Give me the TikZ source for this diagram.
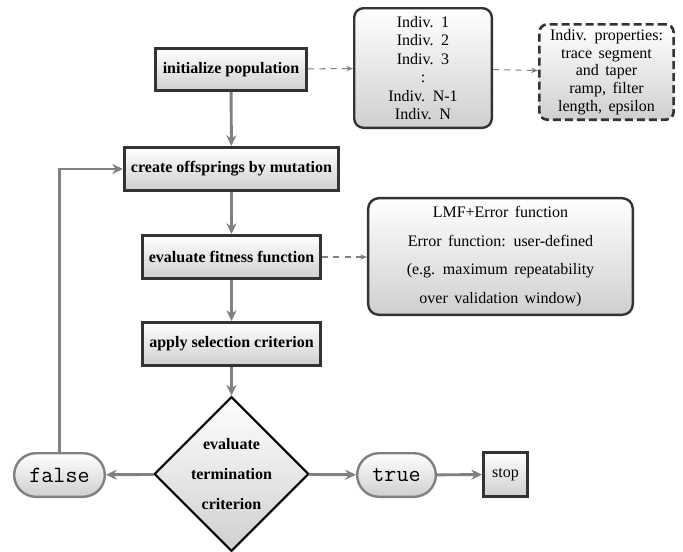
\documentclass[tikz,border=0pt]{standalone}
\usepackage{fontspec}
\setmainfont{Liberation Serif}
\newfontfamily\widefont{Liberation Serif}[WordSpace=1.6]
\usetikzlibrary{shapes.geometric,shapes.misc,arrows.meta}
\definecolor{boxdark}{HTML}{333333}
\definecolor{shadegray}{HTML}{CFCFCF}
\definecolor{arrowgray}{HTML}{808080}
\begin{document}
\begin{tikzpicture}[x=0.75pt,y=-0.75pt,
  procbox/.style={draw=boxdark, line width=2.2pt, top color=white, bottom color=shadegray,
    inner sep=0pt, font=\fontsize{12}{14}\selectfont\bfseries, align=center},
  infobox/.style={draw=boxdark, line width=1.8pt, rounded corners=7pt, top color=white,
    bottom color=shadegray, inner sep=0pt, align=center},
  propbox/.style={draw=boxdark, line width=2pt, dash pattern=on 6pt off 3pt, rounded corners=6pt,
    top color=white, bottom color=shadegray, inner sep=0pt, align=center,
    font=\widefont\fontsize{12}{13.3}\selectfont},
  termbox/.style={rounded rectangle, draw=arrowgray, line width=1.8pt, top color=white,
    bottom color=shadegray, inner sep=0pt, minimum height=32.7pt,
    font=\fontsize{17.5}{20}\ttfamily},
  decision/.style={diamond, aspect=1, draw=black, line width=1.6pt, top color=white,
    bottom color=shadegray, inner sep=0pt, minimum width=116pt, minimum height=116pt,
    align=center, font=\fontsize{12}{22.5}\selectfont\bfseries},
  flow/.style={draw=arrowgray, line width=2.2pt, -{Stealth[length=8pt,width=7.5pt,inset=2.5pt]}},
  dflow/.style={draw=arrowgray, line width=0.8pt, dash pattern=on 4.5pt off 4pt,
    -{Stealth[length=5pt,width=4pt,inset=1.5pt]}}
]
\useasboundingbox (0,0) rectangle (683,551);

\node[procbox, minimum width=113.3pt, minimum height=31.5pt] (init) at (231,69.5) {initialize population};
\node[infobox, minimum width=103.2pt, minimum height=89.7pt, font=\widefont\fontsize{12}{13.8}\selectfont] (indiv) at (423,68)
  {Indiv. 1\\Indiv. 2\\Indiv. 3\\:\\Indiv. N-1\\Indiv. N};
\node[propbox, minimum width=100.7pt, minimum height=71.5pt] (props) at (606.5,72)
  {Indiv. properties:\\trace segment\\and taper\\ramp, filter\\length, epsilon};
\node[procbox, minimum width=160.5pt, minimum height=32.3pt] (create) at (231.5,169) {create offsprings by mutation};
\node[procbox, minimum width=133.5pt, minimum height=32.3pt] (fitness) at (231.5,257) {evaluate fitness function};
\node[infobox, minimum width=198.5pt, minimum height=87.5pt, rounded corners=8pt, font=\widefont\fontsize{12}{21.5}\selectfont] (lmf) at (500.5,256.5)
  {LMF+Error function\\Error function: user-defined\\(e.g. maximum repeatability\\over validation window)};
\node[procbox, minimum width=133.5pt, minimum height=32.3pt] (apply) at (231.5,344) {apply selection criterion};
\node[decision] (term) at (231.5,474) {evaluate\\termination\\criterion};
\node[termbox, minimum width=68pt] (false) at (59.5,475) {false};
\node[termbox, minimum width=59pt] (true) at (396.5,475) {true};
\node[procbox, minimum width=33pt, minimum height=33pt, font=\fontsize{12}{14}\selectfont] (stop) at (505.5,474.5) {stop};

\draw[dflow] (init) -- (indiv);
\draw[dflow] (indiv) -- (props);
\draw[dflow] (fitness) -- (lmf.west |- fitness.east);
\draw[flow] (init) -- (create);
\draw[flow] (create) -- (fitness);
\draw[flow] (fitness) -- (apply);
\draw[flow] (apply) -- (term);
\draw[flow] (term) -- (false);
\draw[flow] (term) -- (true);
\draw[flow] (true) -- (stop);
\draw[flow] (false.north) |- (create.west);
\end{tikzpicture}
\end{document}
